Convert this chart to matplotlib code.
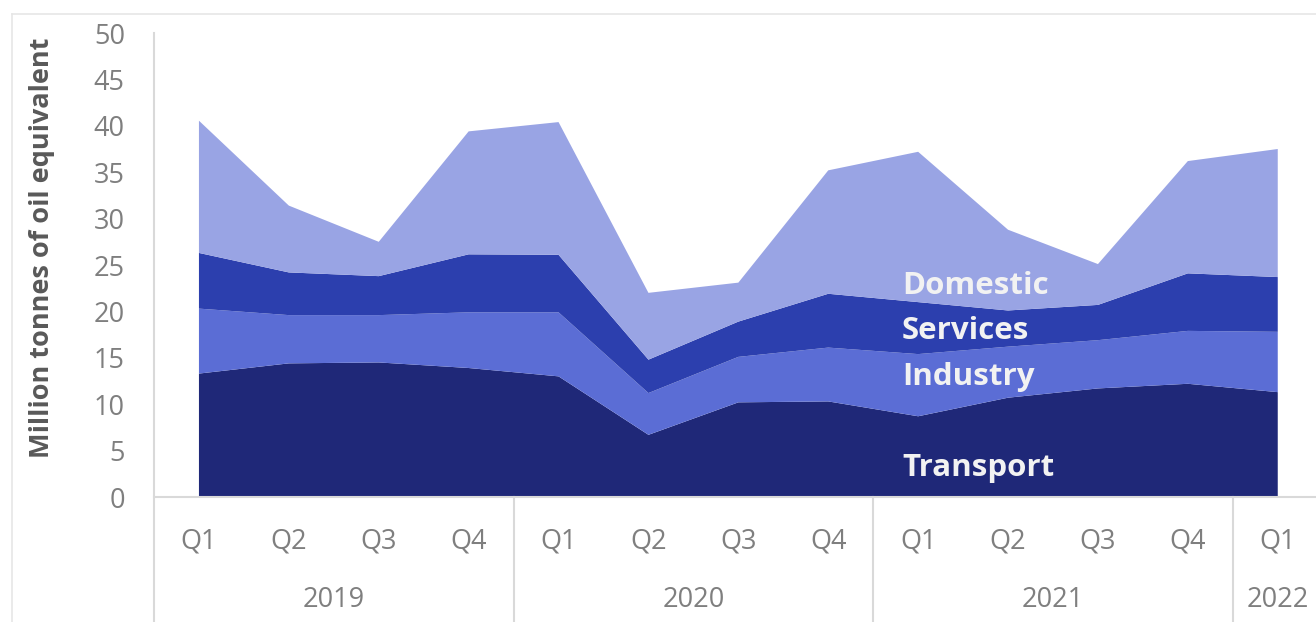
import matplotlib.pyplot as plt
import numpy as np

# quarterly energy consumption by sector (million tonnes of oil equivalent)
quarters = ['Q1', 'Q2', 'Q3', 'Q4', 'Q1', 'Q2', 'Q3', 'Q4', 'Q1', 'Q2', 'Q3', 'Q4', 'Q1']
years = ['2019', '2020', '2021', '2022']
year_start = [0, 4, 8, 12]
year_end = [3, 7, 11, 12]

transport = [13.3, 14.4, 14.5, 13.9, 13.0, 6.7, 10.2, 10.3, 8.7, 10.7, 11.7, 12.2, 11.3]
industry = [7.0, 5.2, 5.1, 6.0, 6.9, 4.5, 4.9, 5.8, 6.7, 5.5, 5.2, 5.7, 6.5]
services = [6.0, 4.6, 4.2, 6.25, 6.2, 3.6, 3.8, 5.8, 5.6, 3.9, 3.8, 6.2, 5.9]
domestic = [14.25, 7.2, 3.7, 13.25, 14.3, 7.2, 4.2, 13.3, 16.2, 8.7, 4.4, 12.1, 13.8]

sector_names = ['Transport', 'Industry', 'Services', 'Domestic']
sector_colors = ['#1f2878', '#5b6dd5', '#2c3fae', '#99a4e4']

grey = '#7f7f7f'
line_grey = '#d9d9d9'
font = 'Open Sans'
fs = 19.5

fig = plt.figure(figsize=(13.16, 6.22), dpi=100)
W, H = 1316, 622
# plot area: left edge at x=154px, zero line at y=497px, top (50) at y=33px
ax = fig.add_axes([154 / W, 125 / H, 13 * 89.9 / W, 464 / H])

x = np.arange(len(quarters))
ax.stackplot(x, transport, industry, services, domestic,
             colors=sector_colors, labels=sector_names, linewidth=0)

ax.set_xlim(-0.5, 12.5)
ax.set_ylim(0, 50)
ax.set_yticks(range(0, 51, 5))
ax.set_xticks(x)
ax.set_xticklabels(quarters)
ax.tick_params(axis='both', length=0, labelcolor=grey, labelsize=fs)
ax.tick_params(axis='y', pad=21)
ax.tick_params(axis='x', pad=22)
for lab in ax.get_xticklabels() + ax.get_yticklabels():
    lab.set_fontfamily(font)

for s in ['top', 'right', 'left']:
    ax.spines[s].set_visible(False)
ax.spines['bottom'].set_color(line_grey)
ax.spines['bottom'].set_linewidth(1.5)

ax.set_ylabel('Million tonnes of oil equivalent', fontsize=fs, fontweight='bold',
              color='#595959', family=font)
ax.yaxis.set_label_coords(-99 / 1168.7, 0.537)

# vertical axis line runs down through the category labels
trans = ax.get_xaxis_transform()
low = -125 / 464
ax.plot([-0.5, -0.5], [low, 1.0], color=line_grey, lw=1.5, transform=trans, clip_on=False)
# separators between the years
for b in [3.5, 7.5, 11.5]:
    ax.plot([b, b], [low, 0], color=line_grey, lw=1.5, transform=trans, clip_on=False)

# year labels under the quarters
for yr, a, b in zip(years, year_start, year_end):
    ax.text((a + b) / 2, -103 / 464, yr, transform=trans, ha='center', va='center',
            fontsize=fs, color=grey, family=font)

# sector names written inside the areas
label_y = [468, 377, 331, 286]
for name, py in zip(sector_names, label_y):
    fig.text(902 / W, 1 - py / H, name, ha='left', va='center', fontsize=22.5,
             fontweight='bold', color='#f2f2f2', family=font)

# light chart border
fig.add_artist(plt.Line2D([12 / W, 12 / W], [0, 1 - 14 / H], color='#e6e6e6', lw=1.2))
fig.add_artist(plt.Line2D([12 / W, 1], [1 - 14 / H, 1 - 14 / H], color='#e6e6e6', lw=1.2))

plt.savefig('out.png', dpi=100)
